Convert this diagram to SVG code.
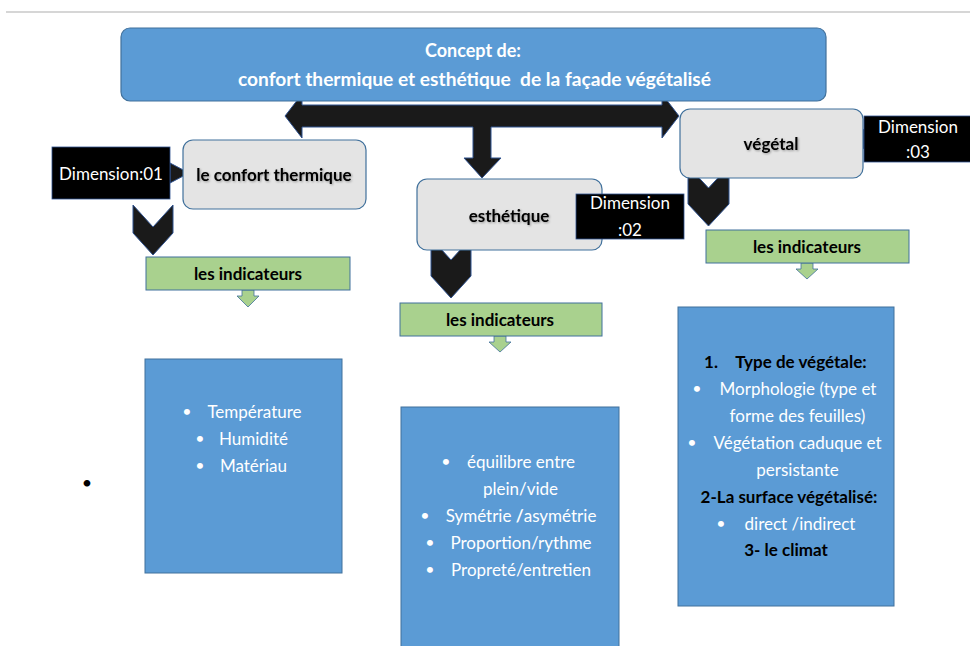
<svg xmlns="http://www.w3.org/2000/svg" width="970" height="646" viewBox="0 0 970 646">
  <defs>
    <filter id="soft" x="-10%" y="-30%" width="120%" height="160%">
      <feDropShadow dx="1" dy="1" stdDeviation="1" flood-color="#000" flood-opacity="0.35"/>
    </filter>
  </defs>
  <style>
    .concept { fill: #5b9bd5; stroke: #41719c; stroke-width: 1.2; }
    .dim-node { fill: #e4e4e4; stroke: #41719c; stroke-width: 1.2; }
    .dim-tag { fill: #000; stroke: #2f528f; stroke-width: 0.8; }
    .ind { fill: #a9d18e; stroke: #41719c; stroke-width: 1; }
    .list { fill: #5b9bd5; stroke: #41719c; stroke-width: 1; }
    .dark { fill: #1a1a1a; stroke: #2f528f; stroke-width: 1; }
    .green { fill: #a9d18e; stroke: #41719c; stroke-width: 0.8; }
    text { font-family: Lato, "Open Sans", "Liberation Sans", sans-serif; }
    .title { fill: #fff; font-weight: bold; font-size: 18px; text-anchor: middle; }
    .label { fill: #000; font-weight: bold; font-size: 17px; text-anchor: middle; }
    .tag { fill: #fff; font-size: 17px; text-anchor: middle; }
    .item { fill: #fff; font-size: 17px; text-anchor: middle; }
    .bullet { fill: #fff; font-size: 16px; text-anchor: middle; }
    .head { fill: #000; font-weight: bold; font-size: 17px; text-anchor: middle; }
  </style>

  <!-- page rule -->
  <line x1="6" y1="12" x2="970" y2="12" stroke="#d6d6d6" stroke-width="2"/>

  <!-- connectors: block arrows and chevrons -->
  <g id="connectors">
    <!-- double arrow under the concept with a branch down -->
    <path class="dark" d="M285,116 L302,94 L302,105 L662,105 L662,94 L679,116 L662,138 L662,127 L491,127 L491,158 L501,158 L482,178 L464,158 L473,158 L473,127 L302,127 L302,138 Z"/>
    <!-- dimension tags pointing at their nodes -->
    <path class="dark" d="M170,163 L189,173 L170,183 Z"/>
    <path class="dark" d="M576,207 L565,217 L576,227 Z"/>
    <path class="dark" d="M864,129 L853,139 L864,149 Z"/>
    <!-- chevrons down to the indicator bars -->
    <path class="dark" d="M133,205 L153,227 L173,205 L173,233 L153,255 L133,233 Z"/>
    <path class="dark" d="M431,238 L451,260 L471,238 L471,276 L451,298 L431,276 Z"/>
    <path class="dark" d="M688,166 L708.5,188 L729,166 L729,204 L708.5,226 L688,204 Z"/>
    <!-- small green arrows under the indicator bars -->
    <path class="green" d="M242,290 L254,290 L254,296 L259,296 L248,307 L237,296 L242,296 Z"/>
    <path class="green" d="M494,336 L506,336 L506,342 L511,342 L500,352 L489,342 L494,342 Z"/>
    <path class="green" d="M801,263 L813,263 L813,269 L818,269 L807,279 L796,269 L801,269 Z"/>
  </g>

  <g id="concept">
    <rect class="concept" x="121" y="28" width="705" height="73" rx="9"/>
    <text class="title" x="473" y="57">Concept de:</text>
    <text class="title" x="474.5" y="86" textLength="473" lengthAdjust="spacingAndGlyphs" xml:space="preserve">confort thermique et esthétique  de la façade végétalisé</text>
  </g>

  <g id="confort-thermique">
    <rect class="dim-node" x="183" y="140" width="183" height="69" rx="10"/>
    <text class="label" x="274" y="181" filter="url(#soft)">le confort thermique</text>
  </g>
  <g id="dimension-01">
    <rect class="dim-tag" x="52" y="147" width="118" height="52"/>
    <text class="tag" x="111" y="180">Dimension:01</text>
  </g>

  <g id="esthetique">
    <rect class="dim-node" x="417" y="179" width="185" height="71" rx="10"/>
    <text class="label" x="509" y="222" filter="url(#soft)">esthétique</text>
  </g>
  <g id="dimension-02">
    <rect class="dim-tag" x="576" y="194" width="108" height="45"/>
    <text class="tag" x="630" y="209">Dimension</text>
    <text class="tag" x="630" y="236">:02</text>
  </g>

  <g id="vegetal">
    <rect class="dim-node" x="680" y="109" width="183" height="69" rx="10"/>
    <text class="label" x="771" y="150" filter="url(#soft)">végétal</text>
  </g>
  <g id="dimension-03">
    <rect class="dim-tag" x="864" y="116" width="108" height="46"/>
    <text class="tag" x="918" y="133">Dimension</text>
    <text class="tag" x="918" y="158">:03</text>
  </g>

  <g id="indicateurs-1">
    <rect class="ind" x="146" y="257" width="204" height="33"/>
    <text class="label" x="248" y="280">les indicateurs</text>
  </g>
  <g id="indicateurs-2">
    <rect class="ind" x="400" y="303" width="202" height="33"/>
    <text class="label" x="500" y="326">les indicateurs</text>
  </g>
  <g id="indicateurs-3">
    <rect class="ind" x="706" y="230" width="203" height="33"/>
    <text class="label" x="807" y="253">les indicateurs</text>
  </g>

  <g id="liste-confort">
    <rect class="list" x="145" y="359" width="197" height="214"/>
    <text class="bullet" x="187" y="417">•</text>
    <text class="item" x="254.5" y="418">Température</text>
    <text class="bullet" x="200" y="444">•</text>
    <text class="item" x="253.5" y="445">Humidité</text>
    <text class="bullet" x="200" y="471">•</text>
    <text class="item" x="253.5" y="472">Matériau</text>
  </g>

  <g id="liste-esthetique">
    <rect class="list" x="401" y="407" width="218" height="245"/>
    <text class="bullet" x="446" y="467">•</text>
    <text class="item" x="521" y="468">équilibre entre</text>
    <text class="item" x="520.5" y="495">plein/vide</text>
    <text class="bullet" x="425" y="521">•</text>
    <text class="item" x="521" y="522">Symétrie <tspan font-weight="bold">/</tspan>asymétrie</text>
    <text class="bullet" x="430" y="548">•</text>
    <text class="item" x="521" y="549">Proportion/rythme</text>
    <text class="bullet" x="430" y="575">•</text>
    <text class="item" x="521" y="576">Propreté/entretien</text>
  </g>

  <g id="liste-vegetal">
    <rect class="list" x="678" y="307" width="216" height="299"/>
    <text class="head" x="711" y="368">1.</text>
    <text class="head" x="801" y="368">Type de végétale:</text>
    <text class="bullet" x="697" y="394">•</text>
    <text class="item" x="798" y="395">Morphologie (type et</text>
    <text class="item" x="797.5" y="422">forme des feuilles)</text>
    <text class="bullet" x="692" y="448">•</text>
    <text class="item" x="797.5" y="449">Végétation caduque et</text>
    <text class="item" x="797.5" y="476">persistante</text>
    <text class="head" x="789" y="503">2-La surface végétalisé:</text>
    <text class="bullet" x="721" y="529">•</text>
    <text class="item" x="800" y="530">direct /indirect</text>
    <text class="head" x="786" y="556">3- le climat</text>
  </g>

  <!-- stray bullet on the page -->
  <text x="87" y="489" font-size="18" fill="#000" text-anchor="middle">•</text>
</svg>
